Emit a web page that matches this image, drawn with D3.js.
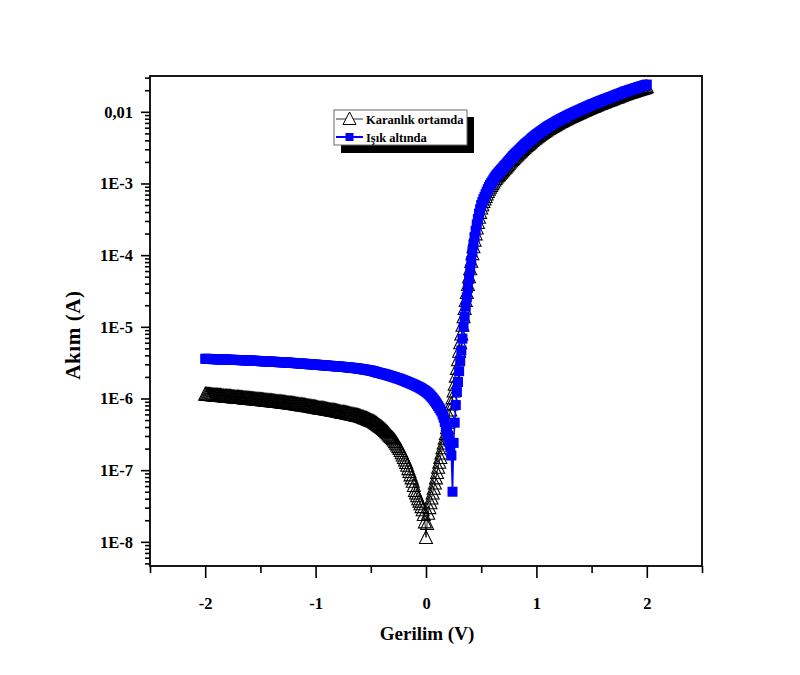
<!DOCTYPE html>
<html>
<head>
<meta charset="utf-8">
<script src="https://cdn.jsdelivr.net/npm/d3@7"></script>
<style>
  body { margin: 0; background: #fff; }
  svg { display: block; }
  text { font-family: "Liberation Serif", "Times New Roman", serif; font-weight: bold; fill: #000; }
</style>
</head>
<body>
<svg id="chart" width="800" height="675"></svg>
<script>
// Voltage sweep (V), 10 mV steps
const voltage = [
  -2.00,-1.99,-1.98,-1.97,-1.96,-1.95,-1.94,-1.93,-1.92,-1.91,
  -1.90,-1.89,-1.88,-1.87,-1.86,-1.85,-1.84,-1.83,-1.82,-1.81,
  -1.80,-1.79,-1.78,-1.77,-1.76,-1.75,-1.74,-1.73,-1.72,-1.71,
  -1.70,-1.69,-1.68,-1.67,-1.66,-1.65,-1.64,-1.63,-1.62,-1.61,
  -1.60,-1.59,-1.58,-1.57,-1.56,-1.55,-1.54,-1.53,-1.52,-1.51,
  -1.50,-1.49,-1.48,-1.47,-1.46,-1.45,-1.44,-1.43,-1.42,-1.41,
  -1.40,-1.39,-1.38,-1.37,-1.36,-1.35,-1.34,-1.33,-1.32,-1.31,
  -1.30,-1.29,-1.28,-1.27,-1.26,-1.25,-1.24,-1.23,-1.22,-1.21,
  -1.20,-1.19,-1.18,-1.17,-1.16,-1.15,-1.14,-1.13,-1.12,-1.11,
  -1.10,-1.09,-1.08,-1.07,-1.06,-1.05,-1.04,-1.03,-1.02,-1.01,
  -1.00,-0.99,-0.98,-0.97,-0.96,-0.95,-0.94,-0.93,-0.92,-0.91,
  -0.90,-0.89,-0.88,-0.87,-0.86,-0.85,-0.84,-0.83,-0.82,-0.81,
  -0.80,-0.79,-0.78,-0.77,-0.76,-0.75,-0.74,-0.73,-0.72,-0.71,
  -0.70,-0.69,-0.68,-0.67,-0.66,-0.65,-0.64,-0.63,-0.62,-0.61,
  -0.60,-0.59,-0.58,-0.57,-0.56,-0.55,-0.54,-0.53,-0.52,-0.51,
  -0.50,-0.49,-0.48,-0.47,-0.46,-0.45,-0.44,-0.43,-0.42,-0.41,
  -0.40,-0.39,-0.38,-0.37,-0.36,-0.35,-0.34,-0.33,-0.32,-0.31,
  -0.30,-0.29,-0.28,-0.27,-0.26,-0.25,-0.24,-0.23,-0.22,-0.21,
  -0.20,-0.19,-0.18,-0.17,-0.16,-0.15,-0.14,-0.13,-0.12,-0.11,
  -0.10,-0.09,-0.08,-0.07,-0.06,-0.05,-0.04,-0.03,-0.02,-0.01,
  0.00,0.01,0.02,0.03,0.04,0.05,0.06,0.07,0.08,0.09,
  0.10,0.11,0.12,0.13,0.14,0.15,0.16,0.17,0.18,0.19,
  0.20,0.21,0.22,0.23,0.24,0.25,0.26,0.27,0.28,0.29,
  0.30,0.31,0.32,0.33,0.34,0.35,0.36,0.37,0.38,0.39,
  0.40,0.41,0.42,0.43,0.44,0.45,0.46,0.47,0.48,0.49,
  0.50,0.51,0.52,0.53,0.54,0.55,0.56,0.57,0.58,0.59,
  0.60,0.61,0.62,0.63,0.64,0.65,0.66,0.67,0.68,0.69,
  0.70,0.71,0.72,0.73,0.74,0.75,0.76,0.77,0.78,0.79,
  0.80,0.81,0.82,0.83,0.84,0.85,0.86,0.87,0.88,0.89,
  0.90,0.91,0.92,0.93,0.94,0.95,0.96,0.97,0.98,0.99,
  1.00,1.01,1.02,1.03,1.04,1.05,1.06,1.07,1.08,1.09,
  1.10,1.11,1.12,1.13,1.14,1.15,1.16,1.17,1.18,1.19,
  1.20,1.21,1.22,1.23,1.24,1.25,1.26,1.27,1.28,1.29,
  1.30,1.31,1.32,1.33,1.34,1.35,1.36,1.37,1.38,1.39,
  1.40,1.41,1.42,1.43,1.44,1.45,1.46,1.47,1.48,1.49,
  1.50,1.51,1.52,1.53,1.54,1.55,1.56,1.57,1.58,1.59,
  1.60,1.61,1.62,1.63,1.64,1.65,1.66,1.67,1.68,1.69,
  1.70,1.71,1.72,1.73,1.74,1.75,1.76,1.77,1.78,1.79,
  1.80,1.81,1.82,1.83,1.84,1.85,1.86,1.87,1.88,1.89,
  1.90,1.91,1.92,1.93,1.94,1.95,1.96,1.97,1.98,1.99,
  2.00
];

// Current in the dark (A)
const darkCurrent = [
  1.15e-6,1.145e-6,1.14e-6,1.14e-6,1.135e-6,1.13e-6,1.13e-6,1.125e-6,1.12e-6,1.115e-6,
  1.11e-6,1.11e-6,1.105e-6,1.10e-6,1.10e-6,1.095e-6,1.09e-6,1.085e-6,1.08e-6,1.08e-6,
  1.075e-6,1.07e-6,1.07e-6,1.065e-6,1.06e-6,1.055e-6,1.05e-6,1.05e-6,1.045e-6,1.04e-6,
  1.04e-6,1.035e-6,1.03e-6,1.03e-6,1.025e-6,1.02e-6,1.02e-6,1.015e-6,1.01e-6,1.005e-6,
  1.00e-6,9.98e-7,9.95e-7,9.93e-7,9.9e-7,9.85e-7,9.8e-7,9.75e-7,9.7e-7,9.68e-7,
  9.65e-7,9.63e-7,9.6e-7,9.55e-7,9.5e-7,9.48e-7,9.45e-7,9.4e-7,9.35e-7,9.33e-7,
  9.3e-7,9.25e-7,9.2e-7,9.15e-7,9.1e-7,9.08e-7,9.05e-7,9.03e-7,9.0e-7,8.95e-7,
  8.9e-7,8.85e-7,8.8e-7,8.78e-7,8.75e-7,8.7e-7,8.65e-7,8.63e-7,8.6e-7,8.55e-7,
  8.5e-7,8.45e-7,8.4e-7,8.35e-7,8.3e-7,8.25e-7,8.2e-7,8.18e-7,8.15e-7,8.1e-7,
  8.05e-7,8.0e-7,7.95e-7,7.9e-7,7.85e-7,7.8e-7,7.75e-7,7.7e-7,7.65e-7,7.6e-7,
  7.55e-7,7.5e-7,7.45e-7,7.4e-7,7.35e-7,7.33e-7,7.3e-7,7.25e-7,7.2e-7,7.15e-7,
  7.1e-7,7.05e-7,7.0e-7,6.95e-7,6.9e-7,6.88e-7,6.85e-7,6.8e-7,6.75e-7,6.7e-7,
  6.65e-7,6.6e-7,6.55e-7,6.5e-7,6.45e-7,6.43e-7,6.4e-7,6.35e-7,6.3e-7,6.25e-7,
  6.2e-7,6.15e-7,6.1e-7,6.05e-7,6.0e-7,5.95e-7,5.9e-7,5.85e-7,5.8e-7,5.75e-7,
  5.7e-7,5.63e-7,5.55e-7,5.48e-7,5.4e-7,5.33e-7,5.25e-7,5.18e-7,5.1e-7,5.03e-7,
  4.95e-7,4.88e-7,4.8e-7,4.7e-7,4.6e-7,4.48e-7,4.35e-7,4.25e-7,4.15e-7,4.05e-7,
  3.95e-7,3.83e-7,3.7e-7,3.58e-7,3.45e-7,3.33e-7,3.2e-7,3.08e-7,2.95e-7,2.85e-7,
  2.75e-7,2.63e-7,2.5e-7,2.38e-7,2.25e-7,2.13e-7,2.0e-7,1.88e-7,1.75e-7,1.63e-7,
  1.5e-7,1.39e-7,1.28e-7,1.17e-7,1.05e-7,9.6e-8,8.6e-8,7.8e-8,7.0e-8,6.1e-8,
  5.2e-8,4.8e-8,4.4e-8,4.0e-8,3.7e-8,3.4e-8,3.1e-8,2.8e-8,2.4e-8,1.9e-8,
  1.15e-8,1.8e-8,2.5e-8,3.0e-8,3.5e-8,4.1e-8,4.8e-8,5.6e-8,6.6e-8,7.8e-8,
  9.3e-8,1.10e-7,1.29e-7,1.50e-7,1.74e-7,2.05e-7,2.40e-7,2.80e-7,3.24e-7,3.90e-7,
  4.68e-7,5.7e-7,6.92e-7,8.4e-7,1.02e-6,1.27e-6,1.58e-6,2.05e-6,2.63e-6,3.47e-6,
  4.57e-6,6.0e-6,7.94e-6,1.05e-5,1.38e-5,1.80e-5,2.34e-5,3.02e-5,3.89e-5,5.00e-5,
  6.46e-5,8.25e-5,1.05e-4,1.31e-4,1.62e-4,1.98e-4,2.40e-4,2.85e-4,3.39e-4,3.95e-4,
  4.55e-4,5.05e-4,5.61e-4,6.07e-4,6.58e-4,7.14e-4,7.74e-4,8.30e-4,8.88e-4,9.39e-4,
  9.95e-4,1.05e-3,1.12e-3,1.17e-3,1.23e-3,1.28e-3,1.33e-3,1.39e-3,1.44e-3,1.50e-3,
  1.56e-3,1.63e-3,1.69e-3,1.76e-3,1.83e-3,1.91e-3,1.99e-3,2.07e-3,2.16e-3,2.24e-3,
  2.33e-3,2.42e-3,2.50e-3,2.59e-3,2.68e-3,2.77e-3,2.87e-3,2.98e-3,3.08e-3,3.19e-3,
  3.30e-3,3.39e-3,3.50e-3,3.60e-3,3.70e-3,3.83e-3,3.97e-3,4.08e-3,4.20e-3,4.32e-3,
  4.45e-3,4.57e-3,4.69e-3,4.81e-3,4.93e-3,5.05e-3,5.18e-3,5.31e-3,5.45e-3,5.59e-3,
  5.74e-3,5.86e-3,5.98e-3,6.10e-3,6.23e-3,6.36e-3,6.49e-3,6.63e-3,6.77e-3,6.91e-3,
  7.06e-3,7.19e-3,7.32e-3,7.46e-3,7.60e-3,7.74e-3,7.88e-3,8.03e-3,8.17e-3,8.32e-3,
  8.48e-3,8.62e-3,8.76e-3,8.90e-3,9.05e-3,9.20e-3,9.35e-3,9.49e-3,9.67e-3,9.81e-3,
  9.95e-3,1.014e-2,1.032e-2,1.046e-2,1.060e-2,1.079e-2,1.097e-2,1.116e-2,1.135e-2,1.153e-2,
  1.172e-2,1.186e-2,1.200e-2,1.218e-2,1.237e-2,1.256e-2,1.274e-2,1.293e-2,1.311e-2,1.330e-2,
  1.349e-2,1.367e-2,1.386e-2,1.404e-2,1.423e-2,1.442e-2,1.460e-2,1.479e-2,1.497e-2,1.521e-2,
  1.544e-2,1.567e-2,1.590e-2,1.609e-2,1.628e-2,1.651e-2,1.674e-2,1.697e-2,1.721e-2,1.748e-2,
  1.776e-2,1.795e-2,1.814e-2,1.837e-2,1.860e-2,1.879e-2,1.897e-2,1.920e-2,1.944e-2,1.967e-2,
  1.990e-2,2.013e-2,2.037e-2,2.060e-2,2.083e-2,2.106e-2,2.130e-2,2.153e-2,2.176e-2,2.204e-2,
  2.232e-2
];

// Current under illumination (A)
const lightCurrent = [
  3.58e-6,3.575e-6,3.57e-6,3.565e-6,3.56e-6,3.555e-6,3.55e-6,3.545e-6,3.54e-6,3.535e-6,
  3.53e-6,3.525e-6,3.52e-6,3.515e-6,3.51e-6,3.505e-6,3.50e-6,3.495e-6,3.49e-6,3.485e-6,
  3.48e-6,3.475e-6,3.47e-6,3.465e-6,3.46e-6,3.458e-6,3.455e-6,3.453e-6,3.45e-6,3.445e-6,
  3.44e-6,3.435e-6,3.43e-6,3.425e-6,3.42e-6,3.415e-6,3.41e-6,3.405e-6,3.40e-6,3.395e-6,
  3.39e-6,3.38e-6,3.37e-6,3.365e-6,3.36e-6,3.355e-6,3.35e-6,3.345e-6,3.34e-6,3.33e-6,
  3.32e-6,3.315e-6,3.31e-6,3.305e-6,3.30e-6,3.295e-6,3.29e-6,3.28e-6,3.27e-6,3.265e-6,
  3.26e-6,3.255e-6,3.25e-6,3.245e-6,3.24e-6,3.23e-6,3.22e-6,3.215e-6,3.21e-6,3.205e-6,
  3.20e-6,3.19e-6,3.18e-6,3.175e-6,3.17e-6,3.165e-6,3.16e-6,3.15e-6,3.14e-6,3.135e-6,
  3.13e-6,3.12e-6,3.11e-6,3.105e-6,3.10e-6,3.09e-6,3.08e-6,3.07e-6,3.06e-6,3.055e-6,
  3.05e-6,3.04e-6,3.03e-6,3.02e-6,3.01e-6,3.005e-6,3.00e-6,2.99e-6,2.98e-6,2.97e-6,
  2.96e-6,2.955e-6,2.95e-6,2.94e-6,2.93e-6,2.92e-6,2.91e-6,2.905e-6,2.90e-6,2.89e-6,
  2.88e-6,2.87e-6,2.86e-6,2.855e-6,2.85e-6,2.84e-6,2.83e-6,2.82e-6,2.81e-6,2.805e-6,
  2.80e-6,2.79e-6,2.78e-6,2.775e-6,2.77e-6,2.76e-6,2.75e-6,2.74e-6,2.73e-6,2.72e-6,
  2.71e-6,2.70e-6,2.69e-6,2.68e-6,2.67e-6,2.66e-6,2.65e-6,2.635e-6,2.62e-6,2.61e-6,
  2.60e-6,2.585e-6,2.57e-6,2.555e-6,2.54e-6,2.525e-6,2.51e-6,2.495e-6,2.48e-6,2.465e-6,
  2.45e-6,2.43e-6,2.41e-6,2.385e-6,2.36e-6,2.335e-6,2.31e-6,2.29e-6,2.27e-6,2.25e-6,
  2.23e-6,2.21e-6,2.19e-6,2.17e-6,2.15e-6,2.125e-6,2.10e-6,2.08e-6,2.06e-6,2.035e-6,
  2.01e-6,1.99e-6,1.97e-6,1.945e-6,1.92e-6,1.90e-6,1.88e-6,1.855e-6,1.83e-6,1.805e-6,
  1.78e-6,1.755e-6,1.73e-6,1.705e-6,1.68e-6,1.655e-6,1.63e-6,1.605e-6,1.58e-6,1.555e-6,
  1.53e-6,1.505e-6,1.48e-6,1.455e-6,1.43e-6,1.40e-6,1.37e-6,1.34e-6,1.31e-6,1.28e-6,
  1.25e-6,1.215e-6,1.18e-6,1.14e-6,1.10e-6,1.055e-6,1.01e-6,9.65e-7,9.2e-7,8.75e-7,
  8.3e-7,7.85e-7,7.4e-7,7.0e-7,6.6e-7,6.0e-7,5.4e-7,4.7e-7,4.0e-7,3.5e-7,
  3.0e-7,2.5e-7,2.1e-7,1.6e-7,5.0e-8,2.4e-7,4.6e-7,8.1e-7,1.23e-6,1.70e-6,
  2.40e-6,3.39e-6,4.68e-6,6.84e-6,1.00e-5,1.38e-5,1.91e-5,2.57e-5,3.47e-5,4.68e-5,
  6.31e-5,8.32e-5,1.10e-4,1.40e-4,1.78e-4,2.19e-4,2.69e-4,3.20e-4,3.80e-4,4.37e-4,
  5.01e-4,5.50e-4,6.03e-4,6.53e-4,7.08e-4,7.68e-4,8.32e-4,8.92e-4,9.55e-4,1.01e-3,
  1.07e-3,1.13e-3,1.20e-3,1.26e-3,1.32e-3,1.375e-3,1.43e-3,1.49e-3,1.55e-3,1.61e-3,
  1.68e-3,1.75e-3,1.82e-3,1.89e-3,1.97e-3,2.05e-3,2.14e-3,2.23e-3,2.32e-3,2.41e-3,
  2.51e-3,2.60e-3,2.69e-3,2.78e-3,2.88e-3,2.98e-3,3.09e-3,3.20e-3,3.31e-3,3.43e-3,
  3.55e-3,3.65e-3,3.76e-3,3.87e-3,3.98e-3,4.12e-3,4.27e-3,4.39e-3,4.52e-3,4.65e-3,
  4.79e-3,4.91e-3,5.04e-3,5.17e-3,5.30e-3,5.43e-3,5.57e-3,5.71e-3,5.86e-3,6.01e-3,
  6.17e-3,6.30e-3,6.43e-3,6.56e-3,6.70e-3,6.84e-3,6.98e-3,7.13e-3,7.28e-3,7.43e-3,
  7.59e-3,7.73e-3,7.87e-3,8.02e-3,8.17e-3,8.32e-3,8.47e-3,8.63e-3,8.79e-3,8.95e-3,
  9.12e-3,9.27e-3,9.42e-3,9.57e-3,9.73e-3,9.89e-3,1.005e-2,1.02e-2,1.04e-2,1.055e-2,
  1.07e-2,1.09e-2,1.11e-2,1.125e-2,1.14e-2,1.16e-2,1.18e-2,1.20e-2,1.22e-2,1.24e-2,
  1.26e-2,1.275e-2,1.29e-2,1.31e-2,1.33e-2,1.35e-2,1.37e-2,1.39e-2,1.41e-2,1.43e-2,
  1.45e-2,1.47e-2,1.49e-2,1.51e-2,1.53e-2,1.55e-2,1.57e-2,1.59e-2,1.61e-2,1.635e-2,
  1.66e-2,1.685e-2,1.71e-2,1.73e-2,1.75e-2,1.775e-2,1.80e-2,1.825e-2,1.85e-2,1.88e-2,
  1.91e-2,1.93e-2,1.95e-2,1.975e-2,2.00e-2,2.02e-2,2.04e-2,2.065e-2,2.09e-2,2.115e-2,
  2.14e-2,2.165e-2,2.19e-2,2.215e-2,2.24e-2,2.265e-2,2.29e-2,2.315e-2,2.34e-2,2.37e-2,
  2.40e-2
];

const xTickValues = [-2, -1, 0, 1, 2];
const xMinorTickValues = [-2.5, -1.5, -0.5, 0.5, 1.5, 2.5];
const yTickValues = [1e-8, 1e-7, 1e-6, 1e-5, 1e-4, 1e-3, 1e-2];
const yTickLabels = ["1E-8", "1E-7", "1E-6", "1E-5", "1E-4", "1E-3", "0,01"];
const seriesNames = ["Karanlık ortamda", "Işık altında"];
const xTitle = "Gerilim (V)";
const yTitle = "Akım (A)";

const svg = d3.select("#chart");
const plot = { left: 150, right: 702, top: 76, bottom: 566 };

const x = d3.scaleLinear().domain([-2.5, 2.5]).range([plot.left, plot.right]);
const y = d3.scaleLog().domain([4.6e-9, 3.16e-2]).range([plot.bottom, plot.top]);

// minor log ticks: 2..9 times each decade, inside the domain
const yMinorTickValues = y.ticks().filter(v => !yTickValues.some(t => Math.abs(t - v) / t < 1e-6));

// ---- axes ----
const gxMinor = svg.append("g").attr("transform", `translate(0,${plot.bottom})`)
  .call(d3.axisBottom(x).tickValues(xMinorTickValues).tickSize(7).tickSizeOuter(0).tickFormat(""));
const gx = svg.append("g").attr("transform", `translate(0,${plot.bottom})`)
  .call(d3.axisBottom(x).tickValues(xTickValues).tickSize(12).tickSizeOuter(0).tickPadding(19)
    .tickFormat(d => String(d)));

const gyMinor = svg.append("g").attr("transform", `translate(${plot.left},0)`)
  .call(d3.axisLeft(y).tickValues(yMinorTickValues).tickSize(5).tickSizeOuter(0).tickFormat(""));
const gy = svg.append("g").attr("transform", `translate(${plot.left},0)`)
  .call(d3.axisLeft(y).tickValues(yTickValues).tickSize(9).tickSizeOuter(0).tickPadding(8)
    .tickFormat((d, i) => yTickLabels[i]));

[gx, gxMinor, gy, gyMinor].forEach(g => {
  g.select(".domain").remove();
  g.selectAll(".tick line").attr("stroke", "#000").attr("stroke-width", 1.6);
  g.selectAll(".tick text")
    .style("font-family", '"Liberation Serif","Times New Roman",serif')
    .style("font-weight", "bold")
    .style("font-size", "16.5px")
    .attr("fill", "#000");
});

// frame
svg.append("rect")
  .attr("x", plot.left).attr("y", plot.top)
  .attr("width", plot.right - plot.left).attr("height", plot.bottom - plot.top)
  .attr("fill", "none").attr("stroke", "#000").attr("stroke-width", 1.8);

// axis titles
svg.append("text")
  .attr("x", (plot.left + plot.right) / 2 + 1).attr("y", 640)
  .attr("text-anchor", "middle")
  .style("font-size", "19px")
  .text(xTitle);

svg.append("text")
  .attr("transform", "translate(80,335) rotate(-90)")
  .attr("text-anchor", "middle")
  .style("font-size", "21px")
  .style("letter-spacing", "0.6px")
  .text(yTitle);

// ---- series ----
const dark = voltage.map((v, i) => ({ v, i: darkCurrent[i] }));
const light = voltage.map((v, i) => ({ v, i: lightCurrent[i] }));

const line = d3.line().x(d => x(d.v)).y(d => y(d.i));
const trianglePath = "M0,-7L6.5,6L-6.5,6Z";
const squarePath = "M-5,-5H5V5H-5Z";

svg.append("path").datum(dark)
  .attr("d", line).attr("fill", "none").attr("stroke", "#000").attr("stroke-width", 0.9);
svg.append("g").selectAll("path").data(dark).join("path")
  .attr("transform", d => `translate(${x(d.v)},${y(d.i)})`)
  .attr("d", trianglePath)
  .attr("fill", "none").attr("stroke", "#000").attr("stroke-width", 1.05);

svg.append("path").datum(light)
  .attr("d", line).attr("fill", "none").attr("stroke", "#0000ff").attr("stroke-width", 1.6);
svg.append("g").selectAll("path").data(light).join("path")
  .attr("transform", d => `translate(${x(d.v)},${y(d.i)})`)
  .attr("d", squarePath)
  .attr("fill", "#0000ff");

// ---- legend ----
const legend = svg.append("g");
legend.append("rect").attr("x", 341).attr("y", 117).attr("width", 133).attr("height", 36).attr("fill", "#000");
legend.append("rect").attr("x", 334).attr("y", 110).attr("width", 133).attr("height", 35)
  .attr("fill", "#fff").attr("stroke", "#666").attr("stroke-width", 1);

const rows = [
  { name: seriesNames[0], y: 119 },
  { name: seriesNames[1], y: 137 }
];
legend.append("line").attr("x1", 336).attr("x2", 363).attr("y1", rows[0].y).attr("y2", rows[0].y)
  .attr("stroke", "#333").attr("stroke-width", 1);
legend.append("path").attr("transform", `translate(349.5,${rows[0].y})`)
  .attr("d", "M0,-7L6.5,5.5L-6.5,5.5Z").attr("fill", "#fff").attr("stroke", "#000").attr("stroke-width", 1);
legend.append("line").attr("x1", 336).attr("x2", 363).attr("y1", rows[1].y).attr("y2", rows[1].y)
  .attr("stroke", "#0000ff").attr("stroke-width", 2);
legend.append("path").attr("transform", `translate(349.5,${rows[1].y})`)
  .attr("d", "M-4,-4H4V4H-4Z").attr("fill", "#0000ff");

rows.forEach(r => {
  legend.append("text").attr("x", 366).attr("y", r.y + 4.5)
    .style("font-size", "12.5px").text(r.name);
});
</script>
</body>
</html>
